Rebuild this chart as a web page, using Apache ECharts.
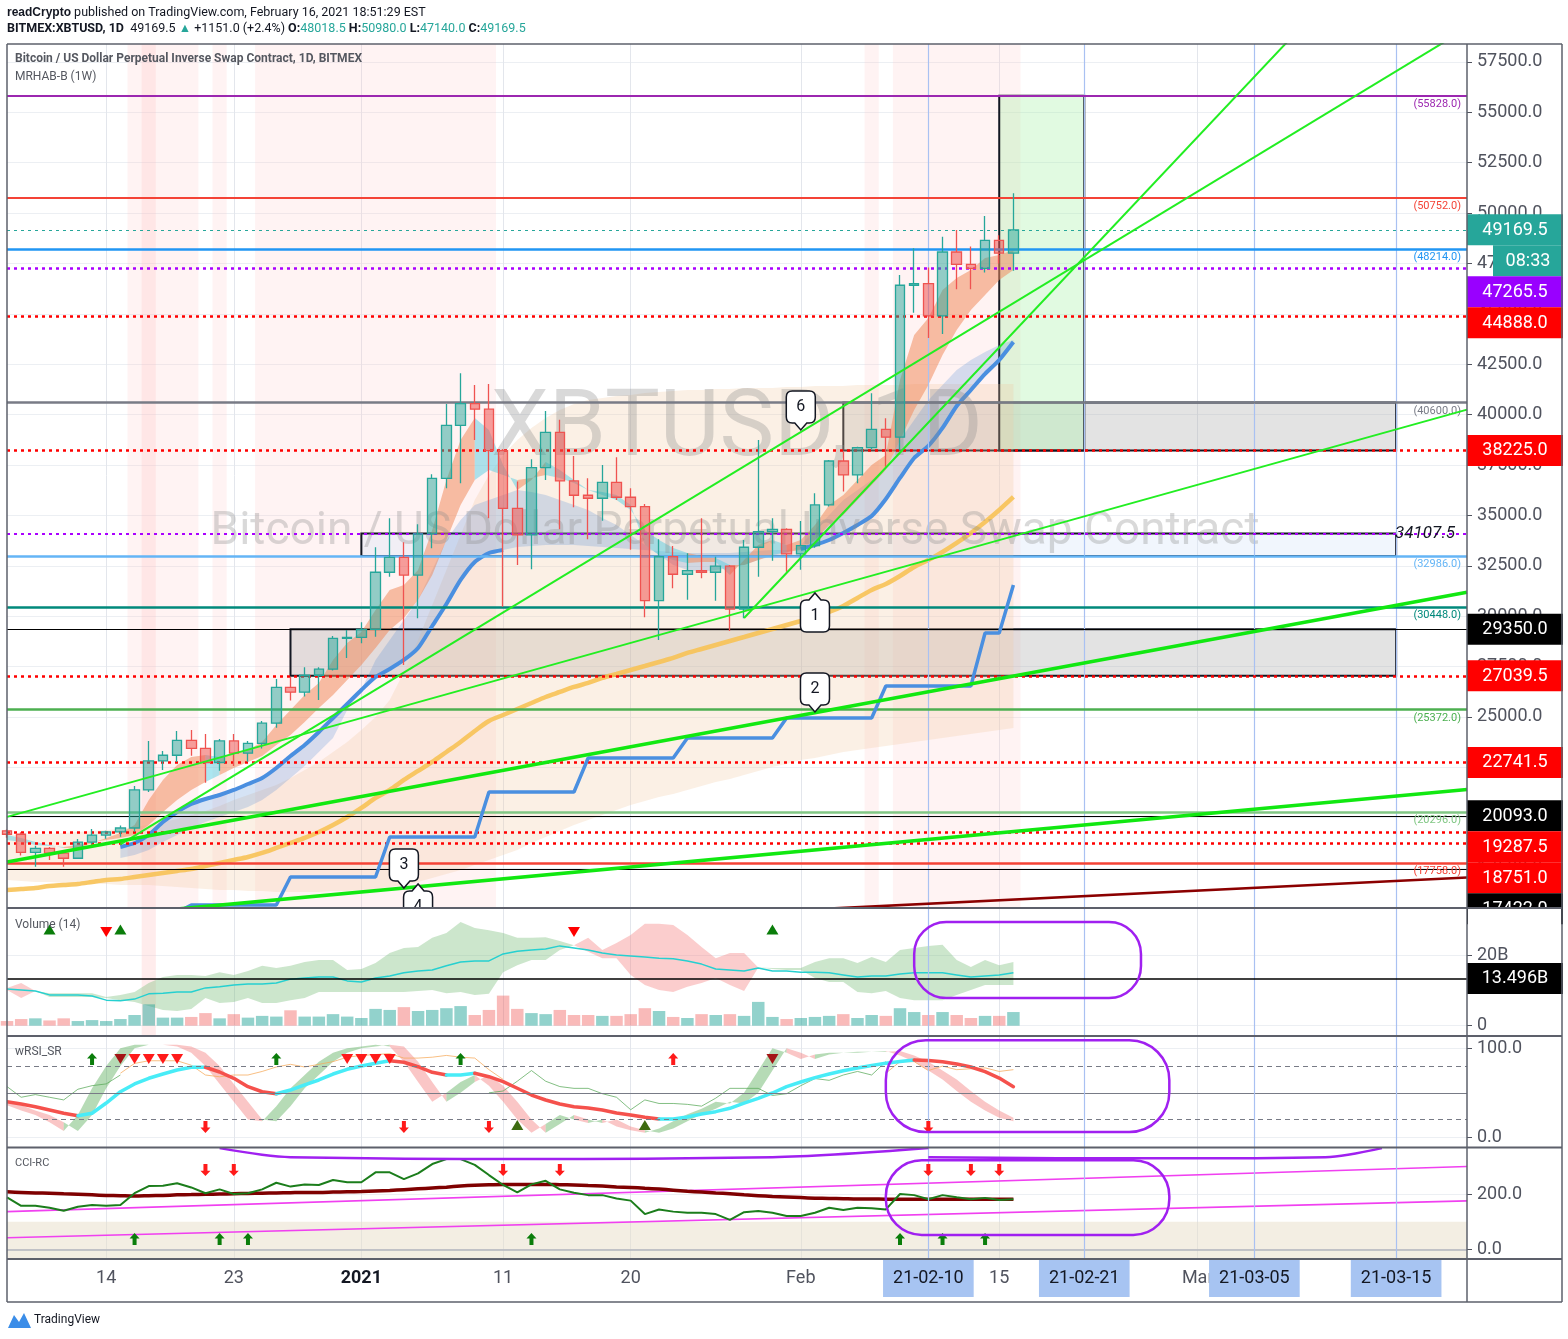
<!DOCTYPE html>
<html><head><meta charset="utf-8">
<script src="https://cdn.jsdelivr.net/npm/echarts@6/dist/echarts.min.js"></script>
<style>html,body{margin:0;padding:0;background:#fff}#c{width:1568px;height:1339px}</style>
</head><body><div id="c"></div><script>
// ---------------- DATA ----------------
const dates = ['12-07','12-08','12-09','12-10','12-11','12-12','12-13','12-14','12-15','12-16','12-17','12-18','12-19','12-20','12-21','12-22','12-23','12-24','12-25','12-26','12-27','12-28','12-29','12-30','12-31',
'01-01','01-02','01-03','01-04','01-05','01-06','01-07','01-08','01-09','01-10','01-11','01-12','01-13','01-14','01-15','01-16','01-17','01-18','01-19','01-20','01-21','01-22','01-23','01-24','01-25','01-26','01-27','01-28','01-29','01-30','01-31',
'02-01','02-02','02-03','02-04','02-05','02-06','02-07','02-08','02-09','02-10','02-11','02-12','02-13','02-14','02-15','02-16','02-17','02-18','02-19','02-20','02-21','02-22','02-23','02-24','02-25','02-26','02-27','02-28',
'03-01','03-02','03-03','03-04','03-05','03-06','03-07','03-08','03-09','03-10','03-11','03-12','03-13','03-14','03-15','03-16','03-17','03-18','03-19','03-20'];

const open = [19350,19180,18285,18480,18240,17990,18790,19140,19300,19490, 21380,22820,23100,23840,23440,22740,23810,23200,23690,24690, 26470,26230,27070,27370,28900,28950,29350,32180,32920,32040, 34080,36840,39470,40550,40270,38210,35350,34030,37370,39120, 36710,36000,35850,36640,35900,35440,30770,32950,32080,32260, 32180,32480,30350,33420,34200,34310,33090,33500,35520,37700, 37010,38360,39270,38880,46420,46500,44900,48070,47460,47260, 48650,48018.5];
const close = [19180,18285,18480,18240,17990,18790,19140,19300,19490,21380, 22820,23100,23840,23440,22740,23810,23200,23690,24690,26470, 26230,27070,27370,28900,28950,29350,32180,32920,32040,34080, 36840,39470,40550,40270,38210,35350,34030,37370,39120,36710, 36000,35850,36640,35900,35440,30770,32950,32080,32260,32180, 32480,30350,33420,34200,34310,33090,33500,35520,37700,37010, 38360,39270,38880,46420,46500,44900,48070,47460,47260,48650, 48010,49169.5];
const high = [19420,19280,18610,18550,18260,18940,19440,19350,19610,21575, 23810,23310,24305,24355,24155,23900,24155,23810,24800,26885, 27000,27460,27460,29020,29320,29700,33420,34860,33670,34560, 37040,40530,42050,41470,41520,38300,36680,37790,40180,39740, 37950,36840,37500,37890,36350,35560,33820,33480,33120,34860, 32950,32540,33780,38740,34860,34360,34720,36100,37750,38170, 38410,41060,39820,46930,48260,47300,48830,49160,48340,49860, 48900,50980];
const low = [19000,18120,17570,17900,17570,17950,18690,18960,19050,19300, 21280,22370,22770,23080,21740,22330,22570,22780,23440,24470, 25810,26010,25840,27300,27930,28660,28980,31960,27580,29900, 33370,36350,36600,38740,34860,30470,32540,32330,36760,34310, 35400,33820,34740,35770,33290,29950,28820,31380,30810,31880, 30770,29270,29900,31960,32750,32210,32300,33400,35440,36180, 36600,38280,37420,38250,45060,43800,44000,46220,46220,47050, 47500,47140];

const volume = [1.33,1.9,2.1,1.5,2.1,1.33,1.6,1.33,1.9,3.05, 6.1,2.3,2.3,2.5,3.6,2.1,3.3,2.3,2.8,2.6, 4.4,2.6,2.6,3.3,2.6,2.2,4.8,4.5,5.3,4.2, 4.5,5.0,5.6,3.05,4.5,8.6,4.8,3.6,3.3,4.5, 3.05,3.05,2.8,2.8,3.3,5.0,4.2,2.5,2.2,3.3, 3.05,3.3,2.8,6.8,2.5,1.9,2.2,2.5,2.8,3.3, 2.2,3.05,2.8,5.0,3.9,3.05,3.9,3.05,2.2,2.8, 2.8,3.9];
const volMA = [10.5,10.2,9.9,8.8,8.8,8.8,8.5,7.3,7.1,7.6, 9.1,9.3,9.6,9.6,10.8,11.1,11.6,11.9,11.9,12.2, 13.3,13.6,13.9,13.9,12.8,12.5,13.6,14.2,15.1,15.6, 15.9,17.1,18.2,18.5,18.5,20.5,21.3,21.6,21.9,22.8, 22.2,21.6,20.8,20.2,19.9,19.6,19.3,19.1,18.5,17.6, 16.2,15.9,15.6,16.5,15.6,15.6,15.3,15.3,15.1,14.5, 13.9,14.2,14.2,14.8,15.1,15.1,15.1,14.5,13.9,14.2, 14.5,15.1];
const volCloudA = [10.2,7.9,9.9,9.3,9.3,9.3,9.3,8.2,8.8,9.6, 12.2,13.9,14.5,14.5,14.2,15.3,14.5,15.6,17.1,16.5, 17.1,18.2,18.8,18.8,15.9,16.2,17.9,20.8,22.2,22.5, 25.1,26.5,29.6,27.9,27.3,26.5,25.1,25.1,25.3,24.2, 23.0,21.1,19.3,19.3,14.5,11.6,10.2,9.6,11.1,12.2, 13.6,11.6,9.9,16.6,16.5,16.5,16.5,18.2,19.3,19.3, 17.9,19.6,18.2,21.6,22.2,22.8,23.1,18.8,16.8,18.8, 17.3,18.2];
const volCloudB = [10.8,12.2,9.9,8.2,8.2,8.2,8.2,7.9,7.3,6.8, 5.6,4.5,4.2,4.8,7.9,6.5,6.8,7.9,6.5,6.5, 7.3,7.9,9.6,9.6,9.6,9.6,9.6,9.6,9.6,9.9, 10.2,9.3,9.6,8.8,9.1,15.3,17.3,18.8,18.8,21.6, 23.0,25.1,21.6,23.6,25.9,29.1,29.1,28.8,25.9,22.5, 19.3,20.8,20.8,16.6,16.2,15.9,15.9,13.6,12.5,12.5, 9.6,9.3,9.9,7.9,7.3,7.3,7.3,8.8,10.2,11.6, 11.6,11.6];

const emaBlue = [null,null,null,null,null,null,null,null, 18548,18746,19143,19788,20285,20682,20930,21128,21376,21674, 21972,22468,23063,23609,24254,24949,25644,26338,26983,27380, 27827,28422,29514,30606,31796,32690,33136,33285,33434,33483, 33533,33533,33533,33483,33434,33384,33335,33285,33235,33186, 33136,33136,33136,33136,33186,33235,33285,33285,33335,33533, 33781,34129,34525,34972,35816,36858,37850,38445,39339,40430, 41224,42018,42713,43606];
const emaBlueEdge = [null,null,null,null,null,null,null,null, 18002,18151,18399,18796,19143,19491,19788,20036,20285,20533, 20880,21376,21972,22567,23262,23956,25346,26338,27827,28819, 29812,30804,32293,33781,34774,35518,35766,36014,36262,36163, 36014,35766,35518,35270,34873,34525,34029,33533,33037,32541, 32293,32194,32293,32392,32541,32789,32988,33136,33533,34277, 35022,35766,36262,36758,37255,38743,39736,40728,41472,42217, 42713,43110,43457,43705];
const ribbonFast = [19143,18995,18796,18648,18499,18499,18747,18995,19243,19640, 20880,21873,22617,23014,23113,23014,23212,23361,23758,24602, 25346,26090,26686,27827,28671,29217,30308,31301,31548,32293, 34277,36758,38743,39835,39240,37503,36262,36758,37651,37255, 36758,36262,36163,36014,35518,33533,33037,32789,32640,32690, 32690,32045,32789,33533,33781,33533,33781,34525,35518,36014, 36758,37503,37999,41720,43953,44797,46187,46781,47179,47774, 47923,48171];
const ribbonSlow = [18895,18796,18648,18598,18548,18648,18796,18895,18995,19143, 19640,20285,20880,21377,21774,22121,22469,22766,23063,23609, 24105,24750,25446,26090,26834,27581,28422,29317,29912,30804, 32045,33781,35518,36758,37255,37007,36758,36857,37007,36857, 36609,36262,36014,35766,35270,34277,33781,33384,33136,32988, 32888,32541,32541,32789,33037,33186,33285,33781,34525,35022, 35766,36510,37255,38743,40232,41472,42961,44201,45193,45937, 46681,47179];
const cloudUpper = [19143,19143,19193,19193,19242,19292,19342,19391,19441,19540, 19640,19788,19937,20136,20335,20583,20880,21128,21376,21624, 21972,22369,22766,23262,23758,24353,24998,25842,27231,28819, 30556,32293,34029,35766,37007,37999,38743,39339,39835,40232, 40529,40728,40827,40926,40976,41075,41125,41174,41224,41224, 41273,41273,41323,41323,41323,41373,41373,41422,41422,41422, 41472,41472,41472,41472,41522,41522,41522,41522,41522,41522, 41522,41522];
const cloudLower = [16910,16860,16811,16811,16761,16761,16712,16712,16662,16662, 16662,16612,16563,16513,16464,16414,16414,16364,16364,16315, 16315,16315,16315,16364,16364,16414,16464,16563,16662,16811, 17009,17208,17407,17655,17903,18151,18399,18747,19045,19342, 19640,19888,20136,20384,20632,20830,21029,21178,21377,21575, 21774,21922,22121,22320,22518,22667,22865,22965,23114,23262, 23362,23461,23560,23659,23758,23857,23956,24056,24155,24254, 24353,24452];
const slowMA = [16414,16464,16513,16612,16662,16712,16811,16910,16960,17059, 17159,17258,17357,17456,17605,17754,17903,18052,18251,18499, 18747,18995,19293,19640,20037,20484,20980,21377,21873,22320, 22766,23262,23758,24304,24800,25098,25396,25693,25991,26239, 26487,26686,26934,27132,27331,27529,27728,27926,28174,28373, 28571,28770,28968,29167,29365,29564,29762,29961,30209,30507, 30904,31301,31598,31995,32442,32789,33186,33633,34129,34675, 35270,35915];
const weeklyStep = [null,null,null,null,null,null,null,null,null,null,null,null, 15300, 15673,15673,15673,15673,15673,15673,15673, 17057,17057,17057,17057,17057,17057,17057, 19042,19042,19042,19042,19042,19042,19042, 21275,21275,21275,21275,21275,21275,21275, 22962,22962,22962,22962,22962,22962,22962, 23954,23954,23954,23954,23954,23954,23954, 24947,24947,24947,24947,24947,24947,24947, 26535,26535,26535,26535,26535,26535,26535, 29165,29165, 31546];
// the blue EMA line is not painted on these bars in the picture (its fill still is)
const blueHiddenFrom = 36, blueHiddenTo = 55;

const stripeIdx = [9,10,11,12,13,15,18,19,20,21,22,23,24,25,26,27,28,29,30,31,32,33,34,61,63,64,65,66,67,68,69,70,71];
const strongStripeIdx = [10];

// horizontal levels
const levelValues = [55828, 50752, 49169.5, 48214, 47265.5, 44888, 40600, 38225, 34107.5, 32986, 30448, 29350, 27039.5, 25372, 22741.5, 20296, 20093, 19287.5, 18751, 17758, 17422];
const levelLabelled = [1,1,0,1,0,0,1,0,0,1,1,0,0,1,0,1,0,0,0,1,0];
// boxes
const boxX0 = [59, 25, 20, 70];
const boxX1 = [98, 98, 98, 76];
const boxTop = [40600, 34107.5, 29350, 55828];
const boxBottom = [38225, 32986, 27039.5, 38225];
// trend lines (index, price)
const trendLines = [
  [[0,20040],[103,40250]],
  [[8,18680],[103,59170]],
  [[52,29910],[92,59750]],
  [[0,17800],[103,31190]],
  [[12,15465],[103,21400]],
  [[58,15490],[103,17030]]
];
// callouts
const calloutIdx = [56, 57, 57, 28, 29];
const calloutPrice = [39240, 31150, 25250, 16510, 16710];
const calloutText = ['6','1','2','3','4'];
const calloutDir = ['down','up','down','down','up'];
// price tags on axis
const tagValues = [49169.5, 47265.5, 44888, 38225, 29350, 27039.5, 22741.5, 20093, 19287.5, 18751, 17422];
const countdownText = '08:33';
const volTagValue = 13.496;

// RSI pane
const rsiMain = [40.0,37.4,34.4,30.7,27.0,24.3,27.0,38.5,51.2,59.9, 66.3,71.1,75.6,78.7,78.7,73.4,66.3,56.9,51.2,49.0, 53.1,58.8,64.4,71.1,76.4,80.1,83.1,86.1,84.3,79.3, 73.0,70.0,70.0,71.9,68.1,62.5,55.1,47.5,41.9,37.4, 34.4,32.9,30.7,27.3,25.1,22.5,20.6,20.6,22.8,26.2, 28.8,32.6,38.5,43.8,49.8,56.9,62.1,67.0,71.1,74.8, 77.9,80.7,83.1,85.2,86.9,86.3,84.8,82.4,79.0,73.7, 66.6,56.9];
const rsiFast = [36,30,25,17,7,25,55,80,100,104, 104,104,102,95,80,60,40,20,18,35, 55,70,85,95,100,102,104,102,85,62, 40,50,62,70,58,40,20,5,15,25, 20,16,20,12,8,5,10,18,26,32, 40,38,50,75,100,95,88,93,95,95, 96,96,97,92,85,75,65,52,40,30, 22,18];
const rsiFastLag = [40,36,30,25,17,7,25,55,80,100, 104,104,104,102,95,80,60,40,20,18, 35,55,70,85,95,100,102,104,102,85, 62,40,50,62,70,58,40,20,5,15, 25,20,16,20,12,8,5,10,18,26, 32,40,38,50,75,100,95,88,93,95, 95,96,96,97,92,85,75,65,52,40, 30,22];
const rsiSignal = [null,null,null,null,null,null,null,null, 72,83,86,86,86,81,70,68,70,70, 74,79,82,79,82,85,90,92,93,94, 89,89,90,92,90,89,76,65, null,null,null,null,null,null,null,null,null,null,null,null,null,null,null,null,null,null,null,null,null,null,null,null,null,null, 72,85,85,75,80,76,77,78,74,76];
const rsiThin = [57,45,48,45,42,54,58,60,70, null,null,null,null,null,null,null,null,null,null,null,null,null,null,null,null,null,null,null,null,null,null,null,null,null, 50,52,63,75,63,57,55,55,49,45, 31,42,38,38,37,35,44,55,55,55, 47,49,58,66,64,70,74,70,85, null,null,null,null,null,null,null,null];

// CCI pane
const cciLine = [189,158,158,151,140,155,161,158,161,204, 230,231,240,225,204,218,201,204,218,242, 228,236,234,252,244,244,280,280,255,276, 310,328,328,307,270,234,207,236,249,218, 206,197,197,185,177,128,145,137,133,133, 128,107,135,139,133,121,121,133,151,143, 151,149,145,201,197,182,197,189,182,187, 179,182];
const cciSlow = [209,207,205,204,202,200,198,196,195,194, 195,196,198,199,200,201,202,203,204,205, 206,207,207,208,209,210,212,214,217,220, 223,226,230,233,235,236,236,236,236,235, 234,232,230,227,225,222,219,215,211,208, 205,202,198,195,192,190,188,186,185,184, 183,183,182,182,182,182,182,182,182,182, 182,182];
const cciChannel = [ [[0,137],[103,301]], [[0,42],[103,176]] ];

// markers
const volUpIdx = [3, 8, 54], volDownIdx = [7, 40];
const rsiGreenArrowIdx = [6, 19, 32], rsiRedUpArrowIdx = [47];
const rsiRedTriIdx = [9,10,11,12,24,25,26,27], rsiDarkTriIdx = [8, 54];
const rsiRedDownArrowIdx = [14, 28, 34, 65], rsiGreenTriIdx = [36, 45];
const cciDownIdx = [14,16,35,39,65,68,70], cciUpIdx = [9,15,17,37,63,66,69];

// annotations (index, value)
const annoVol = [64, 29.6, 80, 7.9];
const annoRsi = [62, 109, 82, 6];
const annoCci = [62, 324, 82, 52];
const cciArc1 = [[15,368],[20,335],[54,335],[65,368]];
const cciArc2 = [[65,335],[93,335],[97,368]];

// axis ticks
const priceTicks = [17500,20000,22500,25000,27500,30000,32500,35000,37500,40000,42500,45000,47500,50000,52500,55000,57500];
const gridLineIdx = [7,16,25,35,44,56,70,84];
const blueLineIdx = [65,76,88,98];
const tickIdx = [7,16,25,35,44,56,65,70,76,84,88,98];
const tickText = ['14','23','2021','11','20','Feb','21-02-10','15','21-02-21','Mar','21-03-05','21-03-15'];
const tickKind = ['n','n','b','n','n','n','x','n','x','n','x','x'];

// ---------------- STYLE / LAYOUT ----------------
const FONT = 'Roboto, "Noto Sans", sans-serif';
const AXC = '#50535e';
const GL = 7, GR = 101;
const AXIS_X = 1568 - GR;
const levelStyle = [
 ['#9c27b0','solid',2],['#f44336','solid',2],['#26a69a','dot',1],['#2196f3','solid',2.5],['#aa00ff','dot',2.5],
 ['#ff0000','dot',2.5],['#787b86','solid',2.5],['#ff0000','dot',2.5],['#aa00ff','dot',2],['#64b5f6','solid',2.5],
 ['#00897b','solid',2.5],['#000000','solid',1],['#ff0000','dot',2.5],['#4caf50','solid',2.5],['#ff0000','dot',2.5],
 ['#81c784','solid',2.5],['#000000','solid',1],['#ff0000','dot',2.5],['#ff0000','dot',2.5],['#f44336','solid',2.5],['#000000','solid',1]];
const boxStyle = [
 {color:'rgba(170,170,170,0.33)', borderColor:'#131722', borderWidth:2},
 {color:'rgba(215,230,250,0.35)', borderColor:'#131722', borderWidth:2},
 {color:'rgba(170,170,170,0.33)', borderColor:'#131722', borderWidth:2},
 {color:'rgba(170,240,170,0.35)', borderColor:'#131722', borderWidth:2}];
const tagColors = ['#26a69a','#9900ff','#ff0000','#ff0000','#000000','#ff0000','#ff0000','#000000','#ff0000','#ff0000','#000000'];
const trendStyle = [['#22ee22',2],['#22ee22',2],['#22ee22',2],['#11e811',3.5],['#11e811',3.5],['#8b0000',2.5]];

const chart = echarts.init(document.getElementById('c'), null, {renderer:'canvas'});

function clipOf(params){ const cs = params.coordSys; return {type:'rect', shape:{x:cs.x, y:cs.y, width:cs.width, height:cs.height}}; }
function coordF(api, x, y){ const i0 = Math.floor(x), f = x - i0; const a = api.coord([i0, y]), b = api.coord([i0+1, y]); return [a[0] + (b[0]-a[0])*f, a[1]]; }
function band(xi, yi, A, B, colorOf, z){
  return {type:'custom', xAxisIndex:xi, yAxisIndex:yi, z:z, silent:true, animation:false, data:[[0,0]],
    renderItem:function(params, api){
      const children = []; let run = null;
      function flush(){
        if (run && run.idx.length > 1){
          const pts = [];
          run.idx.forEach(i => pts.push(api.coord([i, A[i]])));
          for (let j = run.idx.length-1; j >= 0; j--){ const i = run.idx[j]; pts.push(api.coord([i, B[i]])); }
          children.push({type:'polygon', shape:{points:pts}, style:{fill:run.c}});
        }
        run = null;
      }
      for (let i = 0; i < A.length-1; i++){
        if (A[i]==null||A[i+1]==null||B[i]==null||B[i+1]==null){ flush(); continue; }
        const c = colorOf(i);
        if (!run || run.c !== c){ flush(); run = {c:c, idx:[i]}; }
        run.idx.push(i+1);
      }
      flush();
      return {type:'group', children:children, clipPath:clipOf(params)};
    }};
}
function stripes(xi, yi, idxArr, color, z){
  return {type:'custom', xAxisIndex:xi, yAxisIndex:yi, z:z, silent:true, animation:false, data:[[0,0]],
    renderItem:function(params, api){
      const cs = params.coordSys; const children = [];
      let s = null, prev = null;
      const emit = (a,b)=>{ const x0 = coordF(api, a-0.5, 0)[0], x1 = coordF(api, b+0.5, 0)[0]; children.push({type:'rect', shape:{x:x0, y:cs.y, width:x1-x0, height:cs.height}, style:{fill:color}}); };
      idxArr.forEach(i=>{ if (s === null){ s = i; } else if (i !== prev+1){ emit(s, prev); s = i; } prev = i; });
      if (s !== null) emit(s, prev);
      return {type:'group', children:children, clipPath:clipOf(params)};
    }};
}
function colorLine(xi, yi, V, colorOf, width, z){
  return {type:'custom', xAxisIndex:xi, yAxisIndex:yi, z:z, silent:true, animation:false, data:[[0,0]],
    renderItem:function(params, api){
      const children = []; let run = null;
      function flush(){ if (run && run.idx.length > 1){ children.push({type:'polyline', shape:{points:run.idx.map(i=>api.coord([i, V[i]]))}, style:{stroke:run.c, lineWidth:width, fill:'none', lineCap:'round', lineJoin:'round'}}); } run = null; }
      for (let i = 0; i < V.length-1; i++){
        if (V[i]==null||V[i+1]==null){ flush(); continue; }
        const c = colorOf(i);
        if (!run || run.c !== c){ flush(); run = {c:c, idx:[i]}; }
        run.idx.push(i+1);
      }
      flush();
      return {type:'group', children:children, clipPath:clipOf(params)};
    }};
}
function marks(xi, yi, idxArr, val, symbol, size, color){
  return {type:'scatter', xAxisIndex:xi, yAxisIndex:yi, symbol:symbol, symbolSize:size, itemStyle:{color:color, opacity:1}, data:idxArr.map(i=>[i,val]), z:9, silent:true, animation:false};
}
function annoRect(xi, yi, r4, rad){
  return {type:'custom', xAxisIndex:xi, yAxisIndex:yi, z:20, silent:true, animation:false, data:[[0,0]],
    renderItem:function(p, api){ const a = api.coord([r4[0], r4[1]]), b = api.coord([r4[2], r4[3]]);
      return {type:'rect', shape:{x:Math.min(a[0],b[0]), y:Math.min(a[1],b[1]), width:Math.abs(b[0]-a[0]), height:Math.abs(b[1]-a[1]), r:rad}, style:{fill:'none', stroke:'#a020f0', lineWidth:2.5}}; }};
}
function annoPath(xi, yi, pts){
  return {type:'custom', xAxisIndex:xi, yAxisIndex:yi, z:20, silent:true, animation:false, data:[[0,0]],
    renderItem:function(p, api){ return {type:'polyline', shape:{points:pts.map(q=>coordF(api,q[0],q[1])), smooth:0.3}, style:{fill:'none', stroke:'#a020f0', lineWidth:2.5}}; }};
}
function vlines(){ return {silent:true, symbol:['none','none'], animation:false, label:{show:false}, data:blueLineIdx.map(i=>({xAxis:i, lineStyle:{color:'#a9c1f2', width:1.2, type:'solid'}}))}; }

const ARROW_UP = 'path://M5,0L10,5L7,5L7,11L3,11L3,5L0,5Z';
const ARROW_DOWN = 'path://M3,0L7,0L7,6L10,6L5,11L0,6L3,6Z';
const TRI_DOWN = 'path://M0,0L10,0L5,9Z';
const TRI_UP = 'path://M5,0L10,9L0,9Z';

const candleData = open.map((o,i)=>[o, close[i], low[i], high[i]]);
const volData = volume.map((v,i)=>({value:v, itemStyle:{color: close[i] >= open[i] ? 'rgba(38,166,154,0.5)' : 'rgba(239,83,80,0.4)'}}));
const blueLineShown = emaBlue.map((v,i)=> (i >= blueHiddenFrom && i <= blueHiddenTo) ? null : v);

const hlineData = levelValues.map((v,k)=>({
  yAxis:v,
  lineStyle:{color:levelStyle[k][0], type: levelStyle[k][1]==='dot' ? [3,4] : 'solid', width:levelStyle[k][2]},
  label: levelLabelled[k] ? {show:true, position:'insideEndBottom', formatter:'(' + v.toFixed(1) + ')', color:levelStyle[k][0], fontSize:11, fontFamily:FONT, distance:[6,3]} : {show:false}
}));
const boxData = boxX0.map((x0,k)=>[{xAxis:x0, yAxis:boxTop[k], itemStyle:boxStyle[k]}, {xAxis:boxX1[k], yAxis:boxBottom[k]}]);

const axisLabelBase = {color:AXC, fontSize:18, fontFamily:FONT, margin:10};

const option = {
  animation:false, backgroundColor:'#ffffff',
  grid:[
    {left:GL, right:GR, top:44, height:863, outerBoundsMode:'none'},
    {left:GL, right:GR, top:909, height:126, outerBoundsMode:'none'},
    {left:GL, right:GR, top:1037, height:110, outerBoundsMode:'none'},
    {left:GL, right:GR, top:1148, height:111, outerBoundsMode:'none'}
  ],
  xAxis:[0,1,2,3].map(k=>({
    type:'category', gridIndex:k, data:dates, boundaryGap:false,
    axisLine:{show:false}, axisTick:{show:false},
    axisLabel: k===3 ? {
      show:true, interval:(i)=>tickIdx.includes(i), margin:0,
      formatter:(val, idx)=>{ const q = tickIdx.indexOf(idx); return q < 0 ? '' : '{' + tickKind[q] + '|' + tickText[q] + '}'; },
      rich:{
        n:{fontSize:18, color:AXC, fontFamily:FONT, padding:[10,0,10,0]},
        b:{fontSize:18, color:'#131722', fontWeight:'bold', fontFamily:FONT, padding:[10,0,10,0]},
        x:{fontSize:18, color:'#131722', fontFamily:FONT, backgroundColor:'#a7c4f2', padding:[10,10,10,10]}
      }} : {show:false},
    splitLine:{show:true, interval:(i)=>gridLineIdx.includes(i), lineStyle:{color:'#e3e6ec', width:1}}
  })),
  yAxis:[
    {type:'value', gridIndex:0, position:'right', min:15570, max:58390,
      axisLine:{show:false}, axisTick:{show:true, length:5, lineStyle:{color:AXC}, customValues:priceTicks},
      axisLabel:Object.assign({customValues:priceTicks, formatter:v=>Number(v).toFixed(1)}, axisLabelBase),
      splitLine:{show:true, lineStyle:{color:'#eceff3'}}},
    {type:'value', gridIndex:0, show:false, min:0, max:1, splitLine:{show:false}},
    {type:'value', gridIndex:1, position:'right', min:-2.66, max:33.34,
      axisLine:{show:false}, axisTick:{show:true, length:5, lineStyle:{color:AXC}, customValues:[0,20]},
      axisLabel:Object.assign({customValues:[0,20], formatter:v=> Number(v)===0 ? '0' : Number(v)+'B'}, axisLabelBase),
      splitLine:{show:true, lineStyle:{color:'#eceff3'}}},
    {type:'value', gridIndex:1, show:false, min:0, max:1, splitLine:{show:false}},
    {type:'value', gridIndex:2, position:'right', min:-10.9, max:112.7,
      axisLine:{show:false}, axisTick:{show:true, length:5, lineStyle:{color:AXC}, customValues:[0,100]},
      axisLabel:Object.assign({customValues:[0,100], formatter:v=>Number(v).toFixed(1)}, axisLabelBase),
      splitLine:{show:true, lineStyle:{color:'#eceff3'}}},
    {type:'value', gridIndex:3, position:'right', min:-35.3, max:368.4,
      axisLine:{show:false}, axisTick:{show:true, length:5, lineStyle:{color:AXC}, customValues:[0,200]},
      axisLabel:Object.assign({customValues:[0,200], formatter:v=>Number(v).toFixed(1)}, axisLabelBase),
      splitLine:{show:true, lineStyle:{color:'#eceff3'}}}
  ],
  series:[
    // ---- main pane
    Object.assign(stripes(0, 1, stripeIdx, 'rgba(255,200,200,0.22)', 0), {markLine:vlines()}),
    stripes(0, 1, strongStripeIdx, 'rgba(255,185,185,0.22)', 0),
    band(0, 0, cloudUpper, cloudLower, ()=>'rgba(240,200,160,0.28)', 1),
    band(0, 0, emaBlue, emaBlueEdge, ()=>'rgba(80,140,215,0.24)', 1),
    band(0, 0, ribbonFast, ribbonSlow, i=> ribbonFast[i+1] >= ribbonFast[i] ? 'rgba(240,140,95,0.55)' : 'rgba(90,205,225,0.5)', 2),
    {type:'line', xAxisIndex:0, yAxisIndex:0, data:slowMA, smooth:0.3, symbol:'none', lineStyle:{color:'rgba(247,194,85,0.9)', width:4.5}, z:3, silent:true,
      markLine:{silent:true, symbol:['none','none'], animation:false, data:hlineData}},
    {type:'line', xAxisIndex:0, yAxisIndex:0, data:blueLineShown, smooth:0.2, symbol:'none', lineStyle:{color:'#4a8fe0', width:4}, z:4, silent:true},
    {type:'line', xAxisIndex:0, yAxisIndex:0, data:weeklyStep, symbol:'none', lineStyle:{color:'#4a8fe0', width:3.5}, z:5, silent:true,
      markArea:{silent:true, animation:false, data:boxData}},
    {type:'candlestick', xAxisIndex:0, yAxisIndex:0, data:candleData, barWidth:10, z:6, silent:true,
      itemStyle:{color:'rgba(38,166,154,0.5)', color0:'rgba(239,83,80,0.55)', borderColor:'#26a69a', borderColor0:'#ef5350', borderWidth:1.3}},
    ...trendLines.map((pts,k)=>({type:'line', xAxisIndex:0, yAxisIndex:0, data:pts, symbol:'none', lineStyle:{color:trendStyle[k][0], width:trendStyle[k][1]}, z:7, silent:true})),
    {type:'custom', xAxisIndex:0, yAxisIndex:0, z:12, silent:true, data:calloutIdx.map((x,k)=>[x, calloutPrice[k], k]),
      renderItem:function(params, api){
        const k = api.value(2); const p = api.coord([api.value(0), api.value(1)]);
        const w = 29, h = 32, r = 6, ph = 7; const down = calloutDir[k] === 'down';
        const cx = p[0], cy = down ? p[1]-ph-h/2 : p[1]+ph+h/2;
        const l = cx-w/2, rr = cx+w/2, t = cy-h/2, b = cy+h/2;
        let d;
        if (down) d = `M${l+r},${t} L${rr-r},${t} Q${rr},${t} ${rr},${t+r} L${rr},${b-r} Q${rr},${b} ${rr-r},${b} L${cx+6},${b} L${cx},${p[1]} L${cx-6},${b} L${l+r},${b} Q${l},${b} ${l},${b-r} L${l},${t+r} Q${l},${t} ${l+r},${t} Z`;
        else d = `M${l+r},${t} L${cx-6},${t} L${cx},${p[1]} L${cx+6},${t} L${rr-r},${t} Q${rr},${t} ${rr},${t+r} L${rr},${b-r} Q${rr},${b} ${rr-r},${b} L${l+r},${b} Q${l},${b} ${l},${b-r} L${l},${t+r} Q${l},${t} ${l+r},${t} Z`;
        return {type:'group', clipPath:clipOf(params), children:[
          {type:'path', shape:{pathData:d}, style:{fill:'#ffffff', stroke:'#131722', lineWidth:1.5}},
          {type:'text', x:cx, y:cy, style:{text:calloutText[k], fill:'#131722', font:'16px '+FONT, align:'center', verticalAlign:'middle', textAlign:'center', textVerticalAlign:'middle'}}
        ]};
      }},
    // ---- volume pane
    Object.assign(stripes(1, 3, strongStripeIdx, 'rgba(255,200,200,0.35)', 0), {markLine:vlines()}),
    band(1, 2, volCloudA, volCloudB, i=> (volCloudA[i]+volCloudA[i+1] >= volCloudB[i]+volCloudB[i+1]) ? 'rgba(120,190,120,0.38)' : 'rgba(245,130,130,0.4)', 1),
    {type:'bar', xAxisIndex:1, yAxisIndex:2, data:volData, barWidth:'88%', z:2, silent:true,
      markLine:{silent:true, symbol:['none','none'], animation:false, label:{show:false}, data:[{yAxis:volTagValue, lineStyle:{color:'#000', width:1.5, type:'solid'}}]}},
    {type:'line', xAxisIndex:1, yAxisIndex:2, data:volMA, symbol:'none', lineStyle:{color:'#26d0d0', width:1.5}, z:3, silent:true},
    marks(1, 2, volUpIdx, 27.5, TRI_UP, [12,10], '#0a7d0a'),
    marks(1, 2, volDownIdx, 26.8, TRI_DOWN, [12,10], '#ff0000'),
    annoRect(1, 2, annoVol, 32),
    // ---- RSI pane
    band(2, 4, rsiFast, rsiFastLag, i=> (rsiFast[i]+rsiFast[i+1] >= rsiFastLag[i]+rsiFastLag[i+1]) ? 'rgba(80,170,80,0.42)' : 'rgba(244,120,120,0.42)', 1),
    {type:'line', xAxisIndex:2, yAxisIndex:4, data:rsiSignal, symbol:'none', lineStyle:{color:'rgba(245,170,90,0.75)', width:1}, z:2, silent:true,
      markLine:{silent:true, symbol:['none','none'], animation:false, label:{show:false}, data:[
        {yAxis:80, lineStyle:{color:'#787b86', type:[5,4], width:1.2}},
        {yAxis:50, lineStyle:{color:'#787b86', type:'solid', width:1.2}},
        {yAxis:20, lineStyle:{color:'#787b86', type:[5,4], width:1.2}}]}},
    {type:'line', xAxisIndex:2, yAxisIndex:4, data:rsiThin, symbol:'none', lineStyle:{color:'rgba(90,170,90,0.75)', width:1}, z:2, silent:true, markLine:vlines()},
    colorLine(2, 4, rsiMain, i=> rsiMain[i+1] >= rsiMain[i] ? '#48ecf7' : '#f5514c', 3.5, 4),
    marks(2, 4, rsiGreenArrowIdx, 88, ARROW_UP, [10,12], '#0a7d0a'),
    marks(2, 4, rsiRedUpArrowIdx, 88, ARROW_UP, [10,12], '#ff1a1a'),
    marks(2, 4, rsiRedTriIdx, 88, TRI_DOWN, [12,10], '#ff1a1a'),
    marks(2, 4, rsiDarkTriIdx, 88, TRI_DOWN, [12,10], '#a31515'),
    marks(2, 4, rsiRedDownArrowIdx, 11.6, ARROW_DOWN, [10,12], '#ff1a1a'),
    marks(2, 4, rsiGreenTriIdx, 13.8, TRI_UP, [12,10], '#3d6b10'),
    annoRect(2, 4, annoRsi, 40),
    // ---- CCI pane
    {type:'line', xAxisIndex:3, yAxisIndex:5, data:cciChannel[0], symbol:'none', lineStyle:{color:'#f040f0', width:1.6}, z:2, silent:true,
      markArea:{silent:true, animation:false, itemStyle:{color:'rgba(232,222,200,0.5)'}, data:[[{yAxis:-35.3},{yAxis:100}]]},
      markLine:{silent:true, symbol:['none','none'], animation:false, label:{show:false}, data:[{yAxis:0, lineStyle:{color:'#b2b5be', width:1.5, type:'solid'}}].concat(blueLineIdx.map(i=>({xAxis:i, lineStyle:{color:'#a9c1f2', width:1.2, type:'solid'}})))}},
    {type:'line', xAxisIndex:3, yAxisIndex:5, data:cciChannel[1], symbol:'none', lineStyle:{color:'#f040f0', width:1.6}, z:2, silent:true},
    {type:'line', xAxisIndex:3, yAxisIndex:5, data:cciSlow, smooth:0.3, symbol:'none', lineStyle:{color:'#7f0000', width:3.5}, z:3, silent:true},
    {type:'line', xAxisIndex:3, yAxisIndex:5, data:cciLine, symbol:'none', lineStyle:{color:'#1b7d1b', width:2}, z:4, silent:true},
    marks(3, 5, cciDownIdx, 288, ARROW_DOWN, [10,12], '#ff1a1a'),
    marks(3, 5, cciUpIdx, 37, ARROW_UP, [10,12], '#0a7d0a'),
    annoRect(3, 5, annoCci, 36),
    annoPath(3, 5, cciArc1),
    annoPath(3, 5, cciArc2)
  ]
};

const staticGraphics = [
  {type:'text', z:5, x:737, y:432, style:{text:'XBTUSD, 1D', font:'92px '+FONT, fill:'rgba(140,140,140,0.33)', align:'center', verticalAlign:'middle', textAlign:'center', textVerticalAlign:'middle'}},
  {type:'text', z:5, x:735, y:532, style:{text:'Bitcoin / US Dollar Perpetual Inverse Swap Contract', font:'46px '+FONT, fill:'rgba(140,140,140,0.33)', align:'center', verticalAlign:'middle', textAlign:'center', textVerticalAlign:'middle'}},
  {type:'text', z:30, x:7, y:6, style:{text:'{b|readCrypto} published on TradingView.com, February 16, 2021 18:51:29 EST', font:'12.5px '+FONT, fill:'#131722', rich:{b:{fontWeight:'bold', font:'bold 12.5px '+FONT, fill:'#131722'}}}},
  {type:'text', z:30, x:7, y:22, style:{text:'{b|BITMEX:XBTUSD, 1D}  49169.5 {t|▲} +1151.0 (+2.4%) {b|O:}{t|48018.5} {b|H:}{t|50980.0} {b|L:}{t|47140.0} {b|C:}{t|49169.5}', font:'12.5px '+FONT, fill:'#131722', rich:{b:{font:'bold 12.5px '+FONT, fill:'#131722'}, t:{font:'12.5px '+FONT, fill:'#26a69a'}}}},
  {type:'text', z:30, x:15, y:53, style:{text:'Bitcoin / US Dollar Perpetual Inverse Swap Contract, 1D, BITMEX', font:'bold 12px '+FONT, fill:'#555860'}},
  {type:'text', z:30, x:15, y:71, style:{text:'MRHAB-B (1W)', font:'12px '+FONT, fill:'#555860'}},
  {type:'text', z:30, x:15, y:919, style:{text:'Volume (14)', font:'12px '+FONT, fill:'#555860'}},
  {type:'text', z:30, x:15, y:1046, style:{text:'wRSI_SR', font:'12px '+FONT, fill:'#555860'}},
  {type:'text', z:30, x:15, y:1158, style:{text:'CCI-RC', font:'11px '+FONT, fill:'#555860'}},
  {type:'polygon', z:30, shape:{points:[[8,1328],[14,1315],[19,1322],[24,1313],[31,1328]]}, style:{fill:'#3b8de8'}},
  {type:'text', z:30, x:34, y:1314, style:{text:'TradingView', font:'12px '+FONT, fill:'#131722'}}
];
const frameGraphics = [
  {type:'line', z:60, shape:{x1:GL, y1:44, x2:1562, y2:44}, style:{stroke:'#5d606b', lineWidth:1.5}},
  {type:'line', z:60, shape:{x1:GL, y1:44, x2:GL, y2:1302}, style:{stroke:'#5d606b', lineWidth:1.5}},
  {type:'line', z:60, shape:{x1:1562, y1:44, x2:1562, y2:1302}, style:{stroke:'#5d606b', lineWidth:1.5}},
  {type:'line', z:60, shape:{x1:GL, y1:1302, x2:1562, y2:1302}, style:{stroke:'#5d606b', lineWidth:1.5}},
  {type:'line', z:60, shape:{x1:AXIS_X, y1:44, x2:AXIS_X, y2:1302}, style:{stroke:'#5d606b', lineWidth:1.5}},
  {type:'line', z:60, shape:{x1:GL, y1:908, x2:1562, y2:908}, style:{stroke:'#5d606b', lineWidth:2}},
  {type:'line', z:60, shape:{x1:GL, y1:1036, x2:1562, y2:1036}, style:{stroke:'#5d606b', lineWidth:2}},
  {type:'line', z:60, shape:{x1:GL, y1:1147.5, x2:1562, y2:1147.5}, style:{stroke:'#5d606b', lineWidth:2}},
  {type:'line', z:60, shape:{x1:GL, y1:1259, x2:1562, y2:1259}, style:{stroke:'#5d606b', lineWidth:2}}
];
option.graphic = staticGraphics.concat(frameGraphics);
chart.setOption(option);

// ---- price tags laid out with the library's own scale
function tagGraphics(){
  const out = [];
  const items = tagValues.map((v,k)=>({k:k, y:chart.convertToPixel({xAxisIndex:0, yAxisIndex:0}, [0, v])[1], rows: k===0 ? 2 : 1}));
  items.sort((a,b)=>a.y-b.y);
  let lastBottom = -1e9;
  items.forEach(it=>{
    const top = Math.max(it.y - 15.5, lastBottom);
    lastBottom = top + 31*it.rows;
    out.push({type:'rect', z:50, shape:{x:AXIS_X, y:top, width:96, height:31}, style:{fill:tagColors[it.k]}});
    out.push({type:'text', z:51, x:AXIS_X+48, y:top+16, style:{text:tagValues[it.k].toFixed(1), font:'18px '+FONT, fill:'#ffffff', align:'center', verticalAlign:'middle', textAlign:'center', textVerticalAlign:'middle'}});
    if (it.rows === 2){
      out.push({type:'rect', z:50, shape:{x:AXIS_X+26, y:top+31, width:70, height:31}, style:{fill:tagColors[it.k]}});
      out.push({type:'text', z:51, x:AXIS_X+61, y:top+47, style:{text:countdownText, font:'18px '+FONT, fill:'#ffffff', align:'center', verticalAlign:'middle', textAlign:'center', textVerticalAlign:'middle'}});
    }
  });
  const vy = chart.convertToPixel({xAxisIndex:1, yAxisIndex:2}, [0, volTagValue])[1];
  out.push({type:'rect', z:50, shape:{x:AXIS_X, y:vy-15.5, width:96, height:31}, style:{fill:'#000000'}});
  out.push({type:'text', z:51, x:AXIS_X+48, y:vy, style:{text:volTagValue.toFixed(3)+'B', font:'18px '+FONT, fill:'#ffffff', align:'center', verticalAlign:'middle', textAlign:'center', textVerticalAlign:'middle'}});
  out.push({type:'rect', z:55, shape:{x:AXIS_X+1, y:908, width:1562-AXIS_X-2, height:30}, style:{fill:'#ffffff'}});
  const ly = chart.convertToPixel({xAxisIndex:0, yAxisIndex:0}, [0, levelValues[8]])[1];
  out.push({type:'text', z:40, x:AXIS_X-12, y:ly, style:{text:levelValues[8].toFixed(1), font:'italic 17px '+FONT, fill:'#131722', align:'right', verticalAlign:'middle', textAlign:'right', textVerticalAlign:'middle'}});
  return out;
}
chart.setOption({graphic: staticGraphics.concat(frameGraphics, tagGraphics())});
</script></body></html>
